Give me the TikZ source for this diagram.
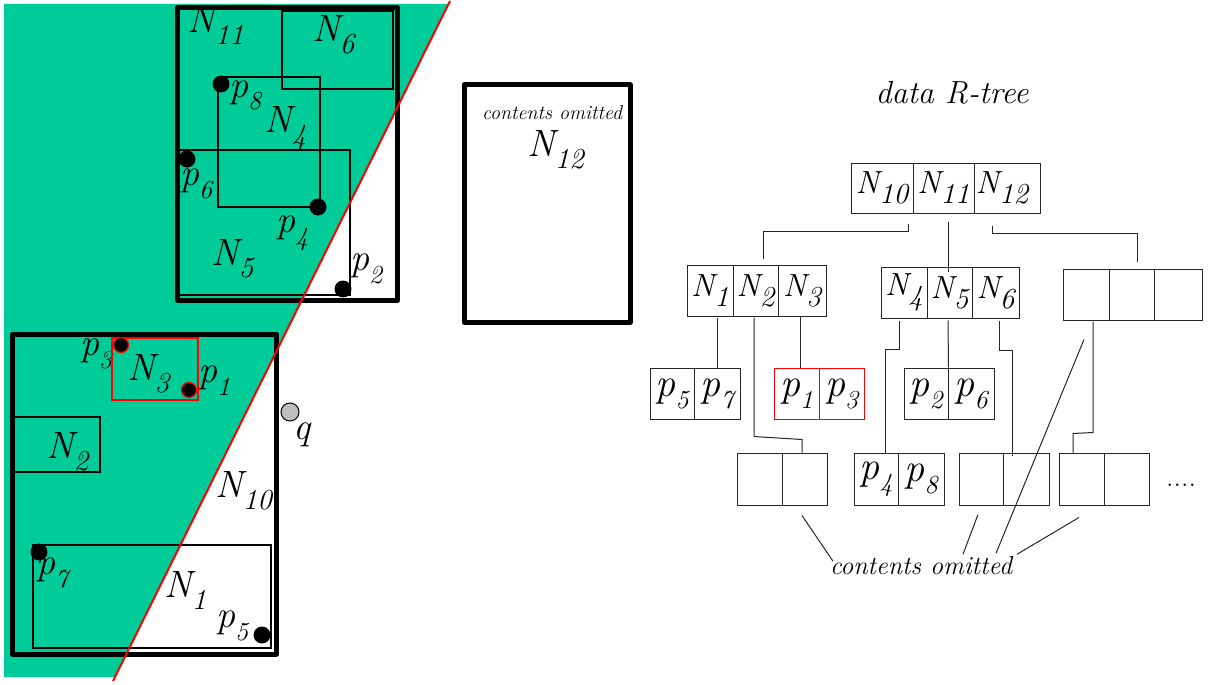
\documentclass[tikz,border=0pt]{standalone}
\usepackage{fontspec}
\usetikzlibrary{calc}
\definecolor{zgreen}{RGB}{0,204,153}
\newcommand\NLab[1]{{\fontsize{38}{38}\selectfont\itshape N\raisebox{-12pt}{\fontsize{29}{29}\selectfont #1}}}
\newcommand\PLab[1]{{\fontsize{38}{38}\selectfont\itshape p\raisebox{-13pt}{\fontsize{26}{26}\selectfont #1}}}
\newcommand\NTr[1]{\raisebox{-4pt}{\fontsize{32}{32}\selectfont\itshape N\raisebox{-10pt}{\fontsize{29}{29}\selectfont #1}}}
\newcommand\PTr[1]{\raisebox{-4pt}{\fontsize{40}{40}\selectfont\itshape p\raisebox{-12pt}{\fontsize{26}{26}\selectfont #1}}}
\begin{document}
\begin{tikzpicture}[x=1pt,y=-1pt,
  lbl/.style={inner sep=0pt, anchor=base west},
  thickrect/.style={line width=5pt, line join=round},
  medrect/.style={line width=2.8pt},
  pdot/.style={circle, fill=black, inner sep=0pt, minimum size=17pt},
  rdot/.style={pdot, draw=red, line width=1.3pt, minimum size=15pt},
  tcell/.style={draw=black!85, line width=1pt, inner sep=0pt, minimum height=51pt},
  rcell/.style={tcell, draw=red},
  conn/.style={draw=black!85, line width=1pt}]
\useasboundingbox (0,0) rectangle (1211,685);
% green half-plane
\fill[zgreen] (4,4) -- (448.5,4) -- (115,677) -- (4,677) -- cycle;

% labels of the left part
\node[lbl] (tN11) at (187,33) {\NLab{11}};
\node[lbl] (tN6) at (312,42) {\NLab{6}};
\node[lbl] (tp8) at (229,97) {\PLab{8}};
\node[lbl] (tN4) at (264,132) {\NLab{4}};
\node[lbl] (tp6) at (180,185) {\PLab{6}};
\node[lbl] (tp4) at (276,232) {\PLab{4}};
\node[lbl] (tN5) at (211,265) {\NLab{5}};
\node[lbl] (tp2) at (350,270) {\PLab{2}};
\node[lbl] (tp3) at (80,355) {\PLab{3}};
\node[lbl] (tN3) at (127,380) {\NLab{3}};
\node[lbl] (tp1) at (198,382) {\PLab{1}};
\node[lbl] (tN2) at (46,458) {\NLab{2}};
\node[lbl] (tq) at (293,439) {\fontsize{38}{38}\selectfont\itshape q};
\node[lbl] (tN10) at (215,497) {\NLab{10}};
\node[lbl] (tp7) at (36,574) {\PLab{7}};
\node[lbl] (tN1) at (164,597) {\NLab{1}};
\node[lbl] (tp5) at (216,627) {\PLab{5}};

% rectangles
\draw[thickrect] (177.5,7.5) rectangle (397.5,300.5);
\draw[medrect] (282,11) rectangle (393,89);
\draw[medrect] (218,77) rectangle (320,207);
\draw[medrect] (177.5,150) rectangle (350,295);
\draw[thickrect] (12.5,334) rectangle (276.5,654);
\draw[medrect] (12.5,417) rectangle (100,472);
\draw[medrect] (33,545) rectangle (271,648);
\draw[medrect, red] (112,338) rectangle (198,400);

% N12 box
\draw[thickrect] (464,85) rectangle (630,322);
\node[inner sep=0pt, anchor=base] (om12) at (552,120) {\fontsize{20}{20}\selectfont\itshape contents omitted};
\node[lbl] (tN12) at (527,157) {\NLab{12}};

% red query line
\draw[red, line width=2pt] (450,1) -- (113,681);

% points
\node[pdot] (p8) at (221,84) {};
\node[pdot] (p6) at (187,159) {};
\node[pdot] (p4) at (318,207) {};
\node[pdot] (p2) at (343,289) {};
\node[rdot] (p3) at (121,345) {};
\node[rdot] (p1) at (189,390) {};
\node[pdot] (p7) at (39,552) {};
\node[pdot] (p5) at (262,635) {};
\node[circle, draw=black, fill=gray!50, minimum size=18pt, inner sep=0pt, line width=1pt] (q) at (290,412) {};

% title
\node[inner sep=0pt, anchor=base] (title) at (952,103) {\fontsize{32}{32}\selectfont\itshape data R-tree};

% tree: root
\node[tcell, minimum width=62pt, minimum height=50pt] (r1) at (882,188) {\NTr{10}};
\node[tcell, minimum width=61pt, minimum height=50pt] (r2) at (943.5,188) {\NTr{11}};
\node[tcell, minimum width=66pt, minimum height=50pt] (r3) at (1007,188) {\NTr{12}\hspace*{10pt}};
% level 2
\node[tcell, minimum width=46pt] (a1) at (710,290.5) {\NTr{1}};
\node[tcell, minimum width=45pt] (a2) at (755.5,290.5) {\NTr{2}};
\node[tcell, minimum width=48pt] (a3) at (802,290.5) {\NTr{3}};
\node[tcell, minimum width=46pt] (b1) at (904,292.5) {\NTr{4}};
\node[tcell, minimum width=45pt] (b2) at (949.5,292.5) {\NTr{5}};
\node[tcell, minimum width=47pt] (b3) at (995.5,292.5) {\NTr{6}};
\node[tcell, minimum width=46pt] (c1) at (1086,294.5) {};
\node[tcell, minimum width=45pt] (c2) at (1131.5,294.5) {};
\node[tcell, minimum width=48pt] (c3) at (1178,294.5) {};
% leaves row 1
\node[tcell, minimum width=44pt] (l11) at (672,393.5) {\PTr{5}};
\node[tcell, minimum width=46pt] (l12) at (717,393.5) {\PTr{7}};
\node[rcell, minimum width=45pt] (l21) at (796.5,393.5) {\PTr{1}};
\node[rcell, minimum width=45pt] (l22) at (841.5,393.5) {\PTr{3}};
\node[tcell, minimum width=44pt] (l31) at (926,393.5) {\PTr{2}};
\node[tcell, minimum width=46pt] (l32) at (971,393.5) {\PTr{6}};
% leaves row 2
\node[tcell, minimum width=45pt, minimum height=52pt] (m11) at (759.5,479) {};
\node[tcell, minimum width=45pt, minimum height=52pt] (m12) at (804.5,479) {};
\node[tcell, minimum width=44pt, minimum height=52pt] (m21) at (876,479) {\PTr{4}};
\node[tcell, minimum width=46pt, minimum height=52pt] (m22) at (921,479) {\PTr{8}};
\node[tcell, minimum width=44pt, minimum height=52pt] (m31) at (981,479) {};
\node[tcell, minimum width=46pt, minimum height=52pt] (m32) at (1026,479) {};
\node[tcell, minimum width=45pt, minimum height=52pt] (m41) at (1081.5,479) {};
\node[tcell, minimum width=45pt, minimum height=52pt] (m42) at (1126.5,479) {};
\node[lbl] (dots) at (1166,486) {\fontsize{30}{30}\selectfont ....};

% tree connectors
\draw[conn] ([xshift=-5pt,yshift=-10pt]r1.south east) -- ++(0,8) -| ([xshift=7.5pt,yshift=6pt]a2.north);
\draw[conn] ([xshift=4.5pt,yshift=-8pt]r2.south) -- ([xshift=-1.5pt,yshift=-5pt]b2.north);
\draw[conn] ([xshift=-15pt,yshift=-12pt]r3.south) -- ++(0,8) -| ([xshift=5.5pt,yshift=7pt]c2.north);
\draw[conn] ([xshift=7pt,yshift=-1pt]a1.south) -- (l12.north);
\draw[conn] ([xshift=-1.5pt,yshift=-1pt]a2.south) -- ++(0,119) -- ([xshift=-2.5pt,yshift=13pt]m12.north) -- ([xshift=-2.5pt]m12.north);
\draw[conn] ([xshift=-2pt]a3.south) -- ([xshift=3.5pt]l21.north);
\draw[conn] ([xshift=-5pt,yshift=-2pt]b1.south) -- ++(0,29) -| ([xshift=9pt]m21.north);
\draw[conn] ([xshift=-1.5pt,yshift=-2pt]b2.south) -- (l31.north east);
\draw[conn] ([xshift=3.5pt,yshift=-2pt]b3.south) -- ++(0,30) -| ([xshift=-14pt,yshift=-3pt]m32.north);
\draw[conn] ([xshift=7pt,yshift=-1pt]c1.south) -- ++(0,111) -- ([xshift=-8.5pt,yshift=19pt]m41.north) -- ([xshift=-8.5pt]m41.north);

% contents omitted label and pointers
\node[inner sep=0pt, anchor=base] (omit) at (921,574) {\fontsize{26}{26}\selectfont\itshape contents omitted};
\draw[conn] ([xshift=-2.5pt,yshift=-10pt]m12.south) -- ([xshift=-88pt,yshift=-5.5pt]omit.north);
\draw[conn] ([xshift=-3pt,yshift=-9pt]m31.south) -- ([xshift=42pt,yshift=1.5pt]omit.north);
\draw[conn] ([xshift=-2pt,yshift=-19pt]c1.south) -- ([xshift=75pt,yshift=2.5pt]omit.north);
\draw[conn] ([xshift=-2.5pt,yshift=-12pt]m41.south) -- ([xshift=96pt,yshift=1.5pt]omit.north);
\end{tikzpicture}
\end{document}
